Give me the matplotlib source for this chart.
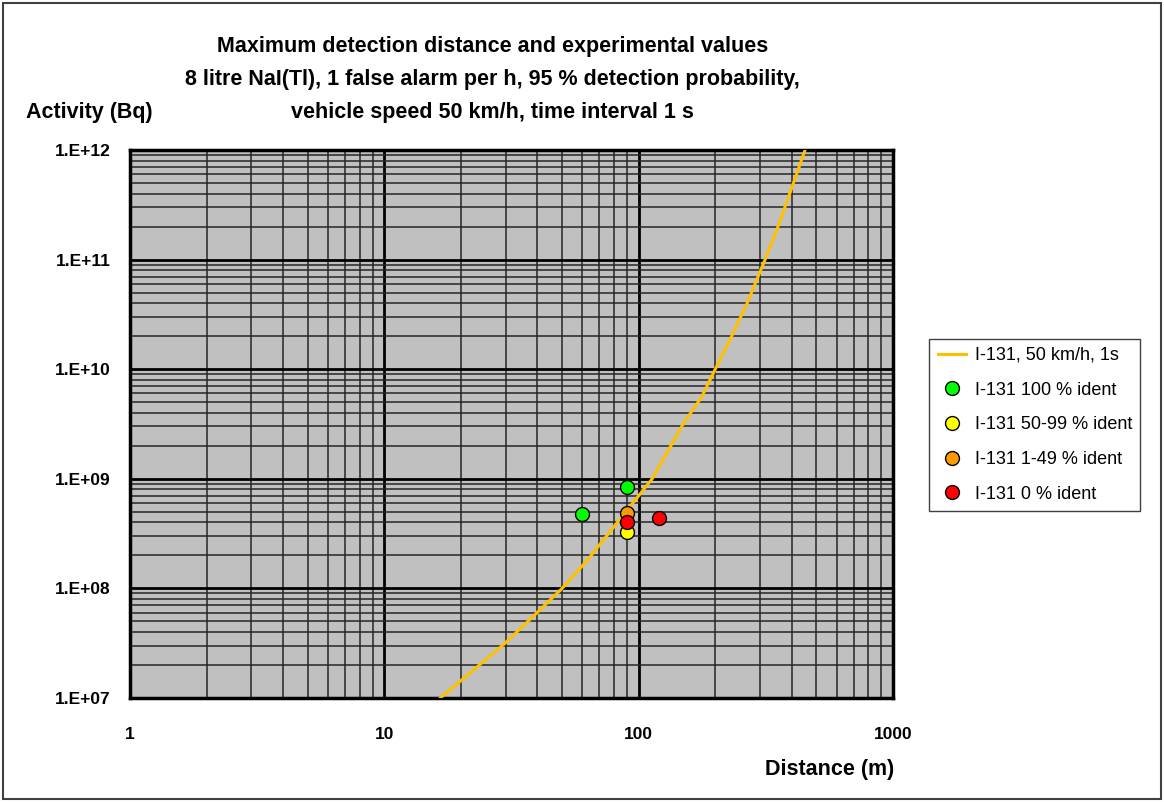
import matplotlib
matplotlib.use("Agg")
import matplotlib.pyplot as plt
from matplotlib.patches import Rectangle
from matplotlib.ticker import LogLocator, FixedLocator, NullFormatter

# Curva de distancia maxima de detecao
curva_dist = [16.6, 19.5, 29.3, 38, 50, 62.7, 113, 133, 150, 177, 200, 233, 267, 314, 353, 394, 451]
curva_act = [1e7, 1.37e7, 3.05e7, 5.4e7, 1e8, 1.8e8, 1e9, 1.95e9, 3.2e9, 5.6e9, 1e10,
             2.04e10, 4e10, 1e11, 2e11, 4.1e11, 1e12]

# Valores experimentais
verde_dist = [60, 90]
verde_act = [4.8e8, 8.4e8]
amarelo_dist = [90]
amarelo_act = [3.3e8]
laranja_dist = [90]
laranja_act = [4.9e8]
vermelho_dist = [90, 120]
vermelho_act = [4.0e8, 4.4e8]

x_ticks = [1, 10, 100, 1000]
x_labels = ["1", "10", "100", "1000"]
y_ticks = [1e7, 1e8, 1e9, 1e10, 1e11, 1e12]
y_labels = ["1.E+07", "1.E+08", "1.E+09", "1.E+10", "1.E+11", "1.E+12"]

plt.rcParams["font.family"] = ["Liberation Sans", "DejaVu Sans"]

fig = plt.figure(figsize=(11.64, 8.02), dpi=100)
fig.patches.append(Rectangle((0.003, 0.004), 0.994, 0.992, transform=fig.transFigure,
                             fill=False, edgecolor="#404040", linewidth=1.5))

ax = fig.add_axes([0.1117, 0.1297, 0.6555, 0.6833])
ax.set_facecolor("#C0C0C0")
ax.set_xscale("log")
ax.set_yscale("log")
ax.set_xlim(1, 1000)
ax.set_ylim(1e7, 1e12)

ax.xaxis.set_major_locator(FixedLocator(x_ticks))
ax.yaxis.set_major_locator(FixedLocator(y_ticks))
ax.set_xticklabels(x_labels)
ax.set_yticklabels(y_labels)
ax.xaxis.set_minor_locator(LogLocator(base=10, subs=range(2, 10), numticks=20))
ax.yaxis.set_minor_locator(LogLocator(base=10, subs=range(2, 10), numticks=20))
ax.xaxis.set_minor_formatter(NullFormatter())
ax.yaxis.set_minor_formatter(NullFormatter())

ax.grid(which="major", color="black", linewidth=2)
ax.grid(which="minor", color="#262626", linewidth=1.1)
ax.set_axisbelow(True)
ax.tick_params(which="both", length=0)
ax.tick_params(axis="x", pad=21, labelsize=12.5)
ax.tick_params(axis="y", pad=14, labelsize=12.5)
for lab in ax.get_xticklabels() + ax.get_yticklabels():
    lab.set_fontweight("bold")
for s in ax.spines.values():
    s.set_linewidth(2.5)
    s.set_color("black")

ax.plot(curva_dist, curva_act, color="#FFC000", linewidth=2.2, label="I-131, 50 km/h, 1s", zorder=3)
estilo = dict(linestyle="none", marker="o", markersize=10, markeredgecolor="black",
              markeredgewidth=1, zorder=4)
ax.plot(verde_dist, verde_act, markerfacecolor="#00FF00", label="I-131 100 % ident", **estilo)
ax.plot(amarelo_dist, amarelo_act, markerfacecolor="#FFFF00", label="I-131 50-99 % ident", **estilo)
ax.plot(laranja_dist, laranja_act, markerfacecolor="#FF9900", label="I-131 1-49 % ident", **estilo)
ax.plot(vermelho_dist, vermelho_act, markerfacecolor="#FF0000", label="I-131 0 % ident", **estilo)

leg = fig.legend(loc="upper left", bbox_to_anchor=(0.7985, 0.5775), fontsize=13,
                 frameon=True, fancybox=False, edgecolor="#404040", framealpha=1,
                 handlelength=1.6, handletextpad=0.45, labelspacing=0.98, borderpad=0.45,
                 borderaxespad=0)
leg.get_frame().set_linewidth(1)

titulo = ("Maximum detection distance and experimental values\n"
          "8 litre NaI(Tl), 1 false alarm per h, 95 % detection probability,\n"
          "vehicle speed 50 km/h, time interval 1 s")
fig.text(0.423, 0.955, titulo, ha="center", va="top", fontsize=15.5, fontweight="bold",
         linespacing=1.75)
fig.text(0.022, 0.860, "Activity (Bq)", ha="left", va="center", fontsize=15.5, fontweight="bold")
fig.text(0.768, 0.041, "Distance (m)", ha="right", va="center", fontsize=15.5, fontweight="bold")

fig.savefig("out.png", dpi=100)
